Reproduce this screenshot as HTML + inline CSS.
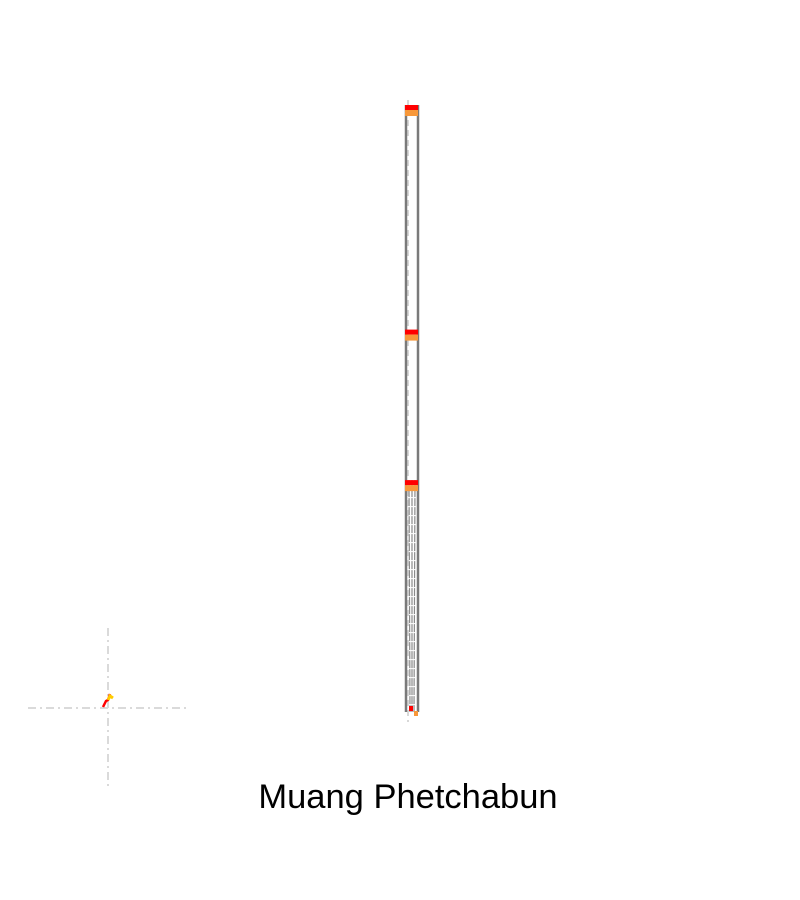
<!DOCTYPE html>
<html><head><meta charset="utf-8"><style>
html,body{margin:0;padding:0;background:#fff;}
svg{display:block;font-family:"Liberation Sans",sans-serif;}
</style></head><body>
<svg id="chart" width="800" height="900">
<g id="inset">
<line x1="28" y1="708" x2="188" y2="708" stroke="#dadada" stroke-width="2" stroke-dasharray="8,4,2,4"/>
<line x1="108" y1="628" x2="108" y2="788" stroke="#dadada" stroke-width="2" stroke-dasharray="8,4,2,4"/>
<polyline points="103,707 106,701 108,700 110,694" fill="none" stroke="#f00" stroke-width="2.5"/>
<polyline points="108,700 110,696 113,698" fill="none" stroke="#ffcc00" stroke-width="3"/>
</g>
<line x1="408" y1="100" x2="408" y2="722" stroke="#d8d8d8" stroke-width="2" stroke-dasharray="6,4"/>
<g id="column"></g>
<text x="408" y="808" text-anchor="middle" font-size="34.5" fill="#000">Muang Phetchabun</text>
</svg>
<script>
const levelLabels = ["top", "middle", "lower"];
const levelValues = [100, 63, 38.2];
const yMin = 0, yMax = 100;
function yScale(v){ return 712 - (v - yMin) / (yMax - yMin) * 607; }
const ns = "http://www.w3.org/2000/svg";
const g = document.getElementById("column");
function mk(tag, attrs){ const e = document.createElementNS(ns, tag); for (const k in attrs) e.setAttribute(k, attrs[k]); g.appendChild(e); return e; }
let l = mk("line", {x1:406, y1:yScale(100), x2:406, y2:yScale(0), stroke:"#7a7a7a", "stroke-width":2.5});


let r = mk("line", {x1:418, y1:yScale(100), x2:418, y2:yScale(0), stroke:"#7a7a7a", "stroke-width":2.5});


const lowTop = yScale(levelValues[2]);
for (let i = 0; i < 3; i++) {
  const ln = mk("line", {x1:409 + i*3, y1:lowTop, x2:410 + i*2, y2:yScale(0), stroke:"#8a8a8a", "stroke-width":1.2, "stroke-dasharray":"8,1"});
  
  
}
levelValues.forEach((v, i) => {
  const y = yScale(v);
  const red = mk("rect", {x:405, y:y, width:13, height:5, fill:"#ff0000"});
  
  
  const org = mk("rect", {x:405, y:y + 5, width:13, height:6, fill:"#f7983a"});
  
  
});
const b1 = mk("rect", {x:409, y:yScale(0) - 6, width:4, height:5, fill:"#ff0000"});


const b2 = mk("rect", {x:414, y:yScale(0) - 1, width:4, height:5, fill:"#f7983a"});


</script>
</body></html>
